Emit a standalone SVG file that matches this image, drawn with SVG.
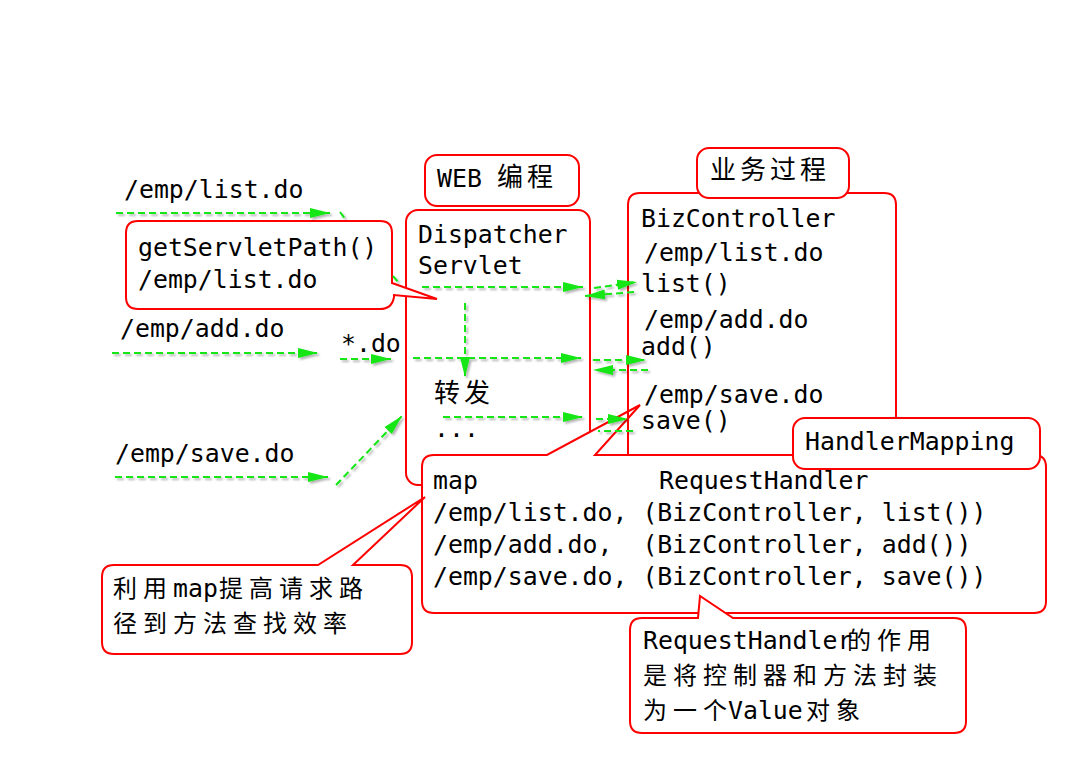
<svg xmlns="http://www.w3.org/2000/svg" width="1070" height="761" viewBox="0 0 1070 761">
<style>
.box{fill:#fff;stroke:#ff0000;stroke-width:2}
.open{fill:none;stroke:#ff0000;stroke-width:2}
.m{font-family:"DejaVu Sans Mono","Liberation Mono",monospace;font-size:24.85px;fill:#000}
.c{font-family:"Noto Sans CJK SC","Noto Sans CJK JP",sans-serif;font-size:26px;letter-spacing:4px;fill:#000}
.cn{font-family:"Noto Sans CJK SC","Noto Sans CJK JP",sans-serif;font-size:24px;letter-spacing:6px;fill:#000}
.g{fill:none;stroke:#12e612;stroke-width:2;stroke-dasharray:7 4}
</style>
<defs>
<marker id="ah" markerWidth="22" markerHeight="12" refX="20" refY="6" orient="auto" markerUnits="userSpaceOnUse">
<path d="M0,1 L20,6 L0,11 Z" fill="#12e612"/>
</marker>
<filter id="sh" x="-10%" y="-10%" width="130%" height="130%">
<feDropShadow dx="2" dy="2" stdDeviation="1.2" flood-color="#000" flood-opacity="0.3"/>
</filter>
</defs>

<g id="labels-left">
<text class="m" x="124" y="198">/emp/list.do</text>
<text class="m" x="120" y="337">/emp/add.do</text>
<text class="m" x="341" y="352">*.do</text>
<text class="m" x="115" y="462">/emp/save.do</text>
</g>

<g id="dispatcher">
<rect class="box" x="406" y="210" width="184" height="275" rx="12"/>
<text class="m" x="418" y="243">Dispatcher</text>
<text class="m" x="418" y="274">Servlet</text>
<text class="c" x="434" y="402">转发</text>
<text class="m" x="434" y="437">...</text>
</g>

<g id="web">
<rect class="box" x="425" y="155" width="154" height="51" rx="12"/>
<text class="m" x="437" y="187">WEB</text>
<text class="c" x="497" y="186">编程</text>
</g>

<g id="map">
<path class="box" d="M434,455 H547 L640,405 L595,455 H1034 Q1046,455 1046,467 V601 Q1046,613 1034,613 H434 Q422,613 422,601 V467 Q422,455 434,455 Z"/>
<text class="m" x="433" y="489">map</text>
<text class="m" x="659" y="489">RequestHandler</text>
<text class="m" x="433" y="521" xml:space="preserve">/emp/list.do, (BizController, list())</text>
<text class="m" x="433" y="553" xml:space="preserve">/emp/add.do,  (BizController, add())</text>
<text class="m" x="433" y="585" xml:space="preserve">/emp/save.do, (BizController, save())</text>
</g>

<g id="biz">
<path class="open" d="M628,455 V205 Q628,193 640,193 H884 Q896,193 896,205 V455"/>
<text class="m" x="641" y="227">BizController</text>
<text class="m" x="644" y="261">/emp/list.do</text>
<text class="m" x="641" y="292">list()</text>
<text class="m" x="644" y="328">/emp/add.do</text>
<text class="m" x="641" y="355">add()</text>
<text class="m" x="644" y="403">/emp/save.do</text>
<text class="m" x="641" y="429">save()</text>
</g>

<g id="process">
<rect class="box" x="697" y="148" width="152" height="50" rx="12"/>
<text class="c" x="710" y="179">业务过程</text>
</g>

<g id="handlermapping">
<rect class="box" x="793" y="418" width="247" height="51" rx="12"/>
<text class="m" x="805" y="450">HandlerMapping</text>
</g>

<g id="note-map">
<path class="box" d="M114,565 H318 L425,497 L353,565 H400 Q412,565 412,577 V642 Q412,654 400,654 H114 Q102,654 102,642 V577 Q102,565 114,565 Z"/>
<text x="113" y="597"><tspan class="cn">利用</tspan><tspan class="m" x="173">map</tspan><tspan class="cn" x="219">提高请求路</tspan></text>
<text class="cn" x="113" y="632">径到方法查找效率</text>
</g>

<g id="note-handler">
<path class="box" d="M642,618 H698 L700,596 L733,618 H954 Q966,618 966,630 V721 Q966,733 954,733 H642 Q630,733 630,721 V630 Q630,618 642,618 Z"/>
<text x="643" y="649"><tspan class="m">RequestHandler</tspan><tspan class="cn" x="847">的作用</tspan></text>
<text class="cn" x="643" y="684">是将控制器和方法封装</text>
<text x="643" y="719"><tspan class="cn">为一个</tspan><tspan class="m" x="728">Value</tspan><tspan class="cn" x="806">对象</tspan></text>
</g>

<g id="note-path">
<path class="box" d="M138,221 H380 Q392,221 392,233 V283 L437,299 L394,295 V297 Q392,309 380,309 H138 Q126,309 126,297 V233 Q126,221 138,221 Z"/>
<text class="m" x="138" y="256">getServletPath()</text>
<text class="m" x="138" y="288">/emp/list.do</text>
</g>

<g id="connectors" filter="url(#sh)">
<line class="g" x1="116" y1="213" x2="330" y2="213" marker-end="url(#ah)"/>
<line class="g" x1="340" y1="212" x2="346" y2="220"/>
<line class="g" x1="393" y1="276" x2="398" y2="282"/>
<line class="g" x1="112" y1="353" x2="318" y2="353" marker-end="url(#ah)"/>
<line class="g" x1="340" y1="359" x2="391" y2="359" marker-end="url(#ah)"/>
<line class="g" x1="115" y1="477" x2="328" y2="477" marker-end="url(#ah)"/>
<line class="g" x1="336" y1="485" x2="402" y2="416" marker-end="url(#ah)"/>
<line class="g" x1="422" y1="287" x2="583" y2="287" marker-end="url(#ah)"/>
<line class="g" x1="465" y1="303" x2="465" y2="377" marker-end="url(#ah)"/>
<line class="g" x1="413" y1="358" x2="581" y2="358" marker-end="url(#ah)"/>
<line class="g" x1="443" y1="417" x2="583" y2="417" marker-end="url(#ah)"/>
<line class="g" x1="594" y1="288" x2="637" y2="282" marker-end="url(#ah)"/>
<line class="g" x1="634" y1="292" x2="585" y2="296" marker-end="url(#ah)"/>
<line class="g" x1="593" y1="360" x2="646" y2="360" marker-end="url(#ah)"/>
<line class="g" x1="648" y1="370" x2="593" y2="370" marker-end="url(#ah)"/>
<line class="g" x1="596" y1="419" x2="628" y2="419" marker-end="url(#ah)"/>
<line class="g" x1="633" y1="431" x2="598" y2="431"/>
</g>
</svg>
